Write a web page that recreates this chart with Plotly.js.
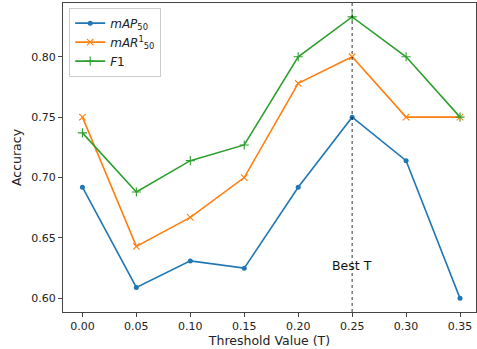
<!DOCTYPE html>
<html><head><meta charset="utf-8">
<script src="https://cdn.plot.ly/plotly-3.0.1.min.js"></script>
<style>html,body{margin:0;padding:0;background:#fff}#chart{width:477px;height:349px}</style>
</head><body><div id="chart"></div>
<script>
const thresholds = [0.00, 0.05, 0.10, 0.15, 0.20, 0.25, 0.30, 0.35];
const mAP50 = [0.692, 0.609, 0.631, 0.625, 0.692, 0.750, 0.714, 0.600];
const mAR50 = [0.750, 0.643, 0.667, 0.700, 0.778, 0.800, 0.750, 0.750];
const f1 = [0.737, 0.688, 0.714, 0.727, 0.800, 0.833, 0.800, 0.750];
const bestT = 0.25;
const xTicks = [0.00, 0.05, 0.10, 0.15, 0.20, 0.25, 0.30, 0.35];
const xTickLabels = ["0.00", "0.05", "0.10", "0.15", "0.20", "0.25", "0.30", "0.35"];
const yTicks = [0.60, 0.65, 0.70, 0.75, 0.80];
const yTickLabels = ["0.60", "0.65", "0.70", "0.75", "0.80"];

const font = {family: "DejaVu Sans", size: 11, color: "#222"};
const traces = [
  {x: thresholds, y: mAP50, mode: "lines+markers", name: "<i>mAP</i><sub>50</sub>",
   line: {color: "#1f77b4", width: 1.6}, marker: {symbol: "circle", size: 5, color: "#1f77b4"}},
  {x: thresholds, y: mAR50, mode: "lines+markers", name: "<i>mAR</i><sup>1</sup><sub>50</sub>",
   line: {color: "#ff7f0e", width: 1.6}, marker: {symbol: "x-thin", size: 6.5, line: {color: "#ff7f0e", width: 1.1}}},
  {x: thresholds, y: f1, mode: "lines+markers", name: "<i>F</i>1",
   line: {color: "#2ca02c", width: 1.6}, marker: {symbol: "cross-thin", size: 6.5, line: {color: "#2ca02c", width: 1.1}}}
];
const axisCommon = {showgrid: false, zeroline: false, showline: true, mirror: true, linecolor: "#444", linewidth: 1,
  ticks: "outside", ticklen: 4, tickcolor: "#444", tickfont: font};
const layout = {
  width: 477, height: 349, margin: {l: 63, r: 1, t: 3, b: 37},
  paper_bgcolor: "#fff", plot_bgcolor: "#fff", font: font,
  xaxis: Object.assign({}, axisCommon, {range: [-0.018, 0.3648], tickvals: xTicks, ticktext: xTickLabels,
    title: {text: "Threshold Value (T)", font: {family: "DejaVu Sans", size: 12.5, color: "#222"}, standoff: 3}}),
  yaxis: Object.assign({}, axisCommon, {range: [0.5887, 0.8445], tickvals: yTicks, ticktext: yTickLabels,
    title: {text: "Accuracy", font: {family: "DejaVu Sans", size: 12.5, color: "#222"}, standoff: 6}}),
  shapes: [{type: "line", xref: "x", yref: "paper", x0: bestT, x1: bestT, y0: 0, y1: 1,
    line: {color: "#000", width: 0.8, dash: "dot"}}],
  annotations: [{x: bestT, y: 0.6275, xref: "x", yref: "y", text: "Best T", showarrow: false,
    xanchor: "center", yanchor: "middle", font: {family: "DejaVu Sans", size: 12.5, color: "#111"}}],
  legend: {x: 0.015, y: 0.985, xanchor: "left", yanchor: "top", bgcolor: "rgba(255,255,255,0.8)",
    bordercolor: "#ccc", borderwidth: 1, font: {family: "DejaVu Sans", size: 12, color: "#222"}, tracegroupgap: 0},
  showlegend: true
};
Plotly.newPlot("chart", traces, layout, {displayModeBar: false, staticPlot: true});
</script></body></html>
